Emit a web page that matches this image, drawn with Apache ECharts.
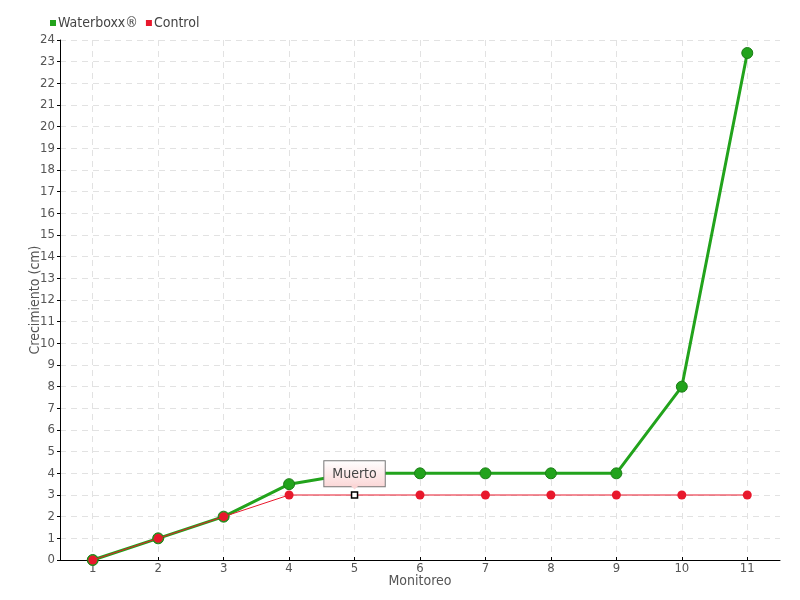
<!DOCTYPE html>
<html><head><meta charset="utf-8">
<script src="https://cdn.jsdelivr.net/npm/echarts@6/dist/echarts.min.js"></script>
<style>html,body{margin:0;padding:0;background:#fff}#c{width:800px;height:600px}</style>
</head><body><div id="c"></div>
<script>
const categories = ['1','2','3','4','5','6','7','8','9','10','11'];
const waterboxx = [0, 1, 2, 3.5, 4, 4, 4, 4, 4, 8, 23.4];
const control = [0, 1, 2, 3, 3, 3, 3, 3, 3, 3, 3];
const deadIndex = 4;
const deadLabel = 'Muerto';
const xName = 'Monitoreo';
const yName = 'Crecimiento (cm)';
const font = 'DejaVu Sans Condensed';

const chart = echarts.init(document.getElementById('c'));
const controlData = control.map((v, i) => i === deadIndex ? {
  value: v,
  symbol: 'rect', symbolSize: 6,
  itemStyle: {color: '#fff', borderColor: '#000', borderWidth: 1.5},
  label: {
    show: true, formatter: deadLabel, position: 'top', distance: 5,
    fontFamily: font, fontSize: 14, color: '#444', lineHeight: 16,
    padding: [5, 8, 4, 8],
    borderColor: '#777', borderWidth: 1,
    backgroundColor: {type: 'linear', x: 0, y: 0, x2: 0, y2: 1,
      colorStops: [{offset: 0, color: '#ffffff'}, {offset: 1, color: '#fbd6d6'}]}
  }
} : v);

chart.setOption({
  animation: false,
  textStyle: {fontFamily: font},
  legend: {
    left: 45, top: 11, itemWidth: 6, itemHeight: 6, itemGap: 8,
    icon: 'rect',
    itemStyle: {borderWidth: 0},
    textStyle: {fontFamily: font, fontSize: 14, color: '#444', padding: [0, 0, 0, -3]},
    data: ['Waterboxx®', 'Control']
  },
  graphic: [
    {type: 'text', x: 420, y: 581, style: {text: xName, font: '14px ' + font, fill: '#555', textAlign: 'center', textVerticalAlign: 'middle'}},
    {type: 'text', x: 35, y: 300, rotation: Math.PI / 2, style: {text: yName, font: '14px ' + font, fill: '#555', textAlign: 'center', textVerticalAlign: 'middle'}}
  ],
  grid: {left: 60, right: 20, top: 40, bottom: 40},
  xAxis: {
    type: 'category', data: categories, boundaryGap: true,
    axisLine: {lineStyle: {color: '#000', width: 1}},
    axisTick: {show: true, alignWithLabel: true, inside: true, length: 3, lineStyle: {color: '#000'}},
    axisLabel: {fontFamily: font, fontSize: 13, color: '#555', margin: 2},
    splitLine: {show: true, alignWithLabel: true, lineStyle: {type: [6, 5], color: '#e2e2e2'}}
  },
  yAxis: {
    type: 'value', min: 0, max: 24, interval: 1,
    axisLine: {show: true, lineStyle: {color: '#000', width: 1}},
    axisTick: {show: true, length: 3, lineStyle: {color: '#000'}},
    axisLabel: {fontFamily: font, fontSize: 13, color: '#555', margin: 5},
    splitLine: {show: true, lineStyle: {type: [6, 5], color: '#e2e2e2'}}
  },
  series: [
    {
      name: 'Waterboxx®', type: 'line', data: waterboxx,
      symbol: 'circle', symbolSize: 11,
      itemStyle: {color: '#22a31c', borderColor: '#1b7d16', borderWidth: 1},
      lineStyle: {color: '#22a31c', width: 3},
      z: 2
    },
    {
      name: 'Control', type: 'line', data: controlData,
      symbol: 'circle', symbolSize: 9,
      itemStyle: {color: '#e8182c', borderColor: '#e8182c', borderWidth: 0},
      lineStyle: {color: '#e8182c', width: 1},
      markPoint: {
        silent: true,
        data: [{coord: [deadIndex, control[deadIndex]], symbol: 'triangle', symbolRotate: 180,
          symbolSize: [10, 5], symbolOffset: [0, -8],
          itemStyle: {color: '#fbd6d6', borderColor: '#777', borderWidth: 0}, label: {show: false}}]
      },
      z: 3
    }
  ]
});
</script></body></html>
